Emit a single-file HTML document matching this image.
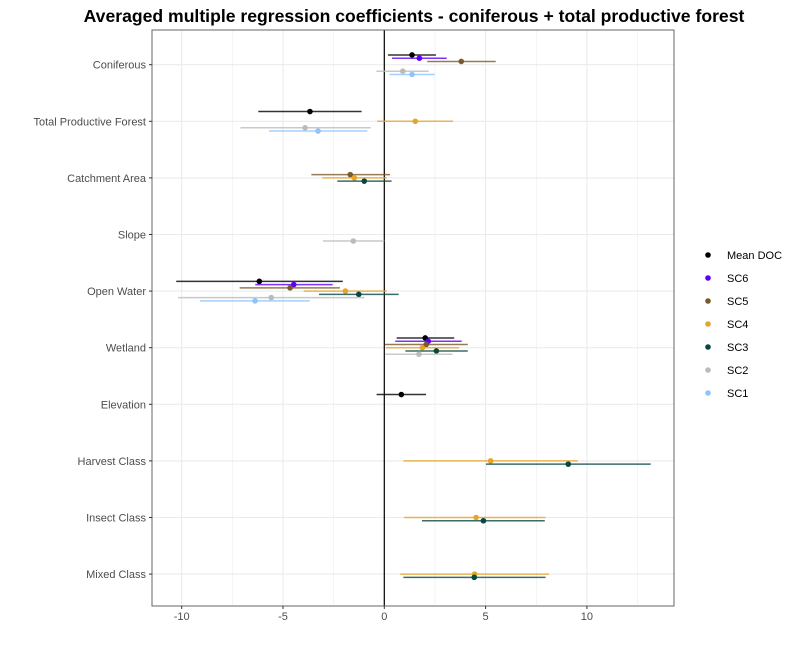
<!DOCTYPE html>
<html><head><meta charset="utf-8"><style>
html,body{margin:0;padding:0;background:#fff;}
svg{display:block;font-family:"Liberation Sans",Arial,sans-serif;}
</style></head><body>
<svg id="chart" width="800" height="650" viewBox="0 0 800 650" xmlns="http://www.w3.org/2000/svg">
<text x="414" y="22" text-anchor="middle" font-size="17.6" font-weight="bold" fill="#000">Averaged multiple regression coefficients - coniferous + total productive forest</text>
<g id="grid"></g><g id="marks"></g><g id="axes"></g><g id="legend"></g>
</svg>
<script>
const categories = ["Coniferous","Total Productive Forest","Catchment Area","Slope","Open Water","Wetland","Elevation","Harvest Class","Insect Class","Mixed Class"];
const seriesNames = ["Mean DOC","SC6","SC5","SC4","SC3","SC2","SC1"];
const seriesColors = ["#000000","#5E00F5","#7A5A2B","#E5A528","#0A4744","#BBBBBB","#8EC3FC"];
const xTicks = [-10,-5,0,5,10];
// each entry: [categoryIndex, seriesIndex, estimate, low, high]
const coefs = [
 [0,0,1.37,0.18,2.55],[0,1,1.73,0.38,3.08],[0,2,3.8,2.12,5.5],[0,5,0.91,-0.39,2.19],[0,6,1.37,0.25,2.49],
 [1,0,-3.67,-6.22,-1.12],[1,3,1.53,-0.35,3.39],[1,5,-3.91,-7.1,-0.67],[1,6,-3.27,-5.69,-0.84],
 [2,2,-1.68,-3.6,0.28],[2,3,-1.48,-3.06,0.12],[2,4,-0.99,-2.32,0.36],
 [3,5,-1.53,-3.03,0],
 [4,0,-6.17,-10.27,-2.05],[4,1,-4.47,-6.37,-2.55],[4,2,-4.65,-7.14,-2.19],[4,3,-1.92,-3.98,0.12],[4,4,-1.26,-3.22,0.71],[4,5,-5.58,-10.18,-0.97],[4,6,-6.38,-9.1,-3.68],
 [5,0,2.02,0.61,3.45],[5,1,2.17,0.54,3.82],[5,2,2.07,0.03,4.12],[5,3,1.88,0.08,3.69],[5,4,2.57,1.04,4.12],[5,5,1.71,0.05,3.36],
 [6,0,0.84,-0.38,2.06],
 [7,3,5.25,0.94,9.56],[7,4,9.08,5.02,13.15],
 [8,3,4.53,0.98,7.96],[8,4,4.89,1.86,7.92],
 [9,3,4.46,0.79,8.13],[9,4,4.44,0.94,7.96]
];
const NS="http://www.w3.org/2000/svg";
const PL=152,PR=674,PT=30,PB=606;
function xs(v){return 384.3+v*20.26;}
function ys(c){return 64.7+c*56.6;}
function mk(parent,tag,attrs){const e=document.createElementNS(NS,tag);for(const k in attrs)e.setAttribute(k,attrs[k]);document.getElementById(parent).appendChild(e);return e;}
const bg=mk("grid","rect",{x:PL,y:PT,width:PR-PL,height:PB-PT,fill:"#fff"});


for(let v=-10;v<=12.5;v+=2.5){const x=xs(v);if(x<PL||x>PR)continue;const major=xTicks.includes(v);
 const g=mk("grid","line",{x1:x,x2:x,y1:PT,y2:PB,stroke:"#EBEBEB","stroke-width":major?1.1:0.55});
 
 }
categories.forEach((c,i)=>{const g=mk("grid","line",{x1:PL,x2:PR,y1:ys(i),y2:ys(i),stroke:"#EBEBEB","stroke-width":1.1});
 
 });
const z=mk("grid","line",{x1:xs(0),x2:xs(0),y1:PT,y2:PB,stroke:"#000","stroke-width":1.2});


coefs.forEach(d=>{const [c,s,est,lo,hi]=d;const y=ys(c)+(s-3)*3.25;const col=seriesColors[s];
 const l=mk("marks","line",{x1:xs(lo),x2:xs(hi),y1:y,y2:y,stroke:col,"stroke-width":1.5,"stroke-opacity":0.8});
 
 
 const p=mk("marks","circle",{cx:xs(est),cy:y,r:2.8,fill:col});
 
 });
const fr=mk("axes","rect",{x:PL,y:PT,width:PR-PL,height:PB-PT,fill:"none",stroke:"#666","stroke-width":1});


xTicks.forEach(v=>{const x=xs(v);
 const t=mk("axes","line",{x1:x,x2:x,y1:PB,y2:PB+3,stroke:"#333"});
 
 
 const tx=mk("axes","text",{x:x,y:PB+14,"text-anchor":"middle","font-size":"11","fill":"#4D4D4D"});
 tx.textContent=v;
 
 });
categories.forEach((c,i)=>{const y=ys(i);
 const t=mk("axes","line",{x1:PL-3,x2:PL,y1:y,y2:y,stroke:"#333"});
 
 
 const tx=mk("axes","text",{x:PL-6,y:y+4,"text-anchor":"end","font-size":"11","fill":"#4D4D4D"});
 tx.textContent=c;
 
 });
seriesNames.forEach((n,i)=>{const y=255+i*23;
 const p=mk("legend","circle",{cx:708,cy:y,r:2.8,fill:seriesColors[i]});
 
 
 const tx=mk("legend","text",{x:727,y:y+4,"font-size":"11",fill:"#000"});
 tx.textContent=n;
 
 });
</script>
</body></html>
